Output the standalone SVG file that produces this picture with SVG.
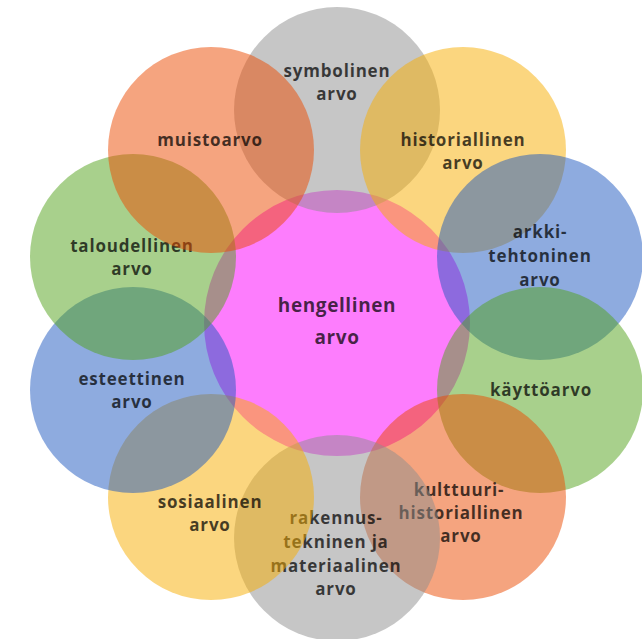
<svg xmlns="http://www.w3.org/2000/svg" width="642" height="639" viewBox="0 0 642 639">
<style>
  .c { fill-opacity: 0.5; }
  .gray { fill: #8d8d8d; }
  .orange { fill: #eb4900; }
  .yellow { fill: #f7ad00; }
  .green { fill: #51a119; }
  .blue { fill: #1d57bf; }
  .center { fill: #fd7dfd; }
  text { font-family: "Open Sans", "DejaVu Sans", sans-serif; font-weight: 700; font-size: 17px; letter-spacing: 0.8px; fill: #000; fill-opacity: 0.72; text-anchor: middle; }
  .big { font-size: 19px; letter-spacing: 0.6px; }
</style>
<rect width="642" height="639" fill="#ffffff"/>
<g id="hengellinen">
  <circle class="center" cx="337" cy="323" r="133"/>
  <text class="big" x="337" y="312">hengellinen</text>
  <text class="big" x="337" y="344">arvo</text>
</g>
<g id="symbolinen">
  <circle class="c gray" cx="337" cy="110" r="103"/>
  <text x="337" y="77">symbolinen</text>
  <text x="337" y="100">arvo</text>
</g>
<g id="historiallinen">
  <circle class="c yellow" cx="463" cy="150" r="103"/>
  <text x="463" y="146">historiallinen</text>
  <text x="463" y="169">arvo</text>
</g>
<g id="arkkitehtoninen">
  <circle class="c blue" cx="540" cy="257" r="103"/>
  <text x="540" y="238">arkki-</text>
  <text x="540" y="262">tehtoninen</text>
  <text x="540" y="286">arvo</text>
</g>
<g id="kayttoarvo">
  <circle class="c green" cx="540" cy="390" r="103"/>
  <text x="541" y="396">käyttöarvo</text>
</g>
<g id="kulttuurihistoriallinen">
  <circle class="c orange" cx="463" cy="497" r="103"/>
  <text x="459" y="496">kulttuuri-</text>
  <text x="461" y="519">historiallinen</text>
  <text x="461" y="542">arvo</text>
</g>
<g id="rakennustekninen">
  <circle class="c gray" cx="337" cy="538" r="103"/>
  <text x="336" y="524">rakennus-</text>
  <text x="336" y="548">tekninen ja</text>
  <text x="336" y="572">materiaalinen</text>
  <text x="336" y="595">arvo</text>
</g>
<g id="sosiaalinen">
  <circle class="c yellow" cx="211" cy="497" r="103"/>
  <text x="210" y="508">sosiaalinen</text>
  <text x="210" y="531">arvo</text>
</g>
<g id="esteettinen">
  <circle class="c blue" cx="133" cy="390" r="103"/>
  <text x="132" y="385">esteettinen</text>
  <text x="132" y="408">arvo</text>
</g>
<g id="taloudellinen">
  <circle class="c green" cx="133" cy="257" r="103"/>
  <text x="132" y="252">taloudellinen</text>
  <text x="132" y="275">arvo</text>
</g>
<g id="muistoarvo">
  <circle class="c orange" cx="211" cy="150" r="103"/>
  <text x="210" y="146">muistoarvo</text>
</g>
<g id="connectors"></g>
</svg>
